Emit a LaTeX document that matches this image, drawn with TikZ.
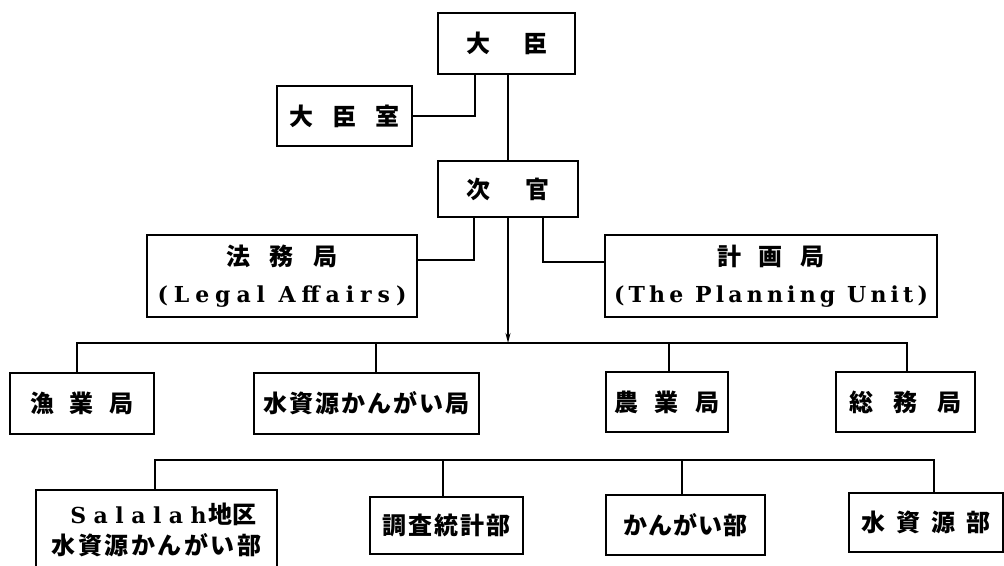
\documentclass[tikz,border=0pt]{standalone}
\usepackage{fontspec}
\newfontfamily\cjk{Noto Sans CJK JP}
\newfontfamily\latf{DejaVu Serif}[LetterSpace=27]
\newfontfamily\latp{DejaVu Serif}[LetterSpace=19]
\newfontfamily\latw{DejaVu Serif}[LetterSpace=34]
\usetikzlibrary{arrows.meta,calc}
\begin{document}
\begin{tikzpicture}[x=1pt,y=-1pt,
  box/.style={draw, line width=1.6pt, inner sep=0pt, align=center,
    font=\cjk\bfseries\fontsize{24}{26}\selectfont},
  twoline/.style={font=\cjk\bfseries\fontsize{24}{37}\selectfont},
  conn/.style={line width=1.4pt}]
\useasboundingbox (0,0) rectangle (1004,565);
% top
\node[box, minimum width=137pt, minimum height=61pt] (daijin) at (506.5,43.5) {大\hspace{33pt}臣};
\node[box, minimum width=135pt, minimum height=60pt] (shitsu) at (344.5,116) {大\hspace{19pt}臣\hspace{19pt}室};
\node[box, minimum width=140pt, minimum height=56pt] (jikan) at (508,189) {次\hspace{35pt}官};
\node[box, twoline, minimum width=270pt, minimum height=82pt] (homu) at (282,276)
  {法\hspace{20pt}務\hspace{20pt}局\\{\latf\bfseries\fontsize{22}{37}\selectfont (Legal Affairs)}};
\node[box, twoline, minimum width=332pt, minimum height=82pt] (keikaku) at (771,276)
  {計\hspace{18pt}画\hspace{18pt}局\\{\latp\bfseries\fontsize{22}{37}\selectfont (The Planning Unit)}};
% row 2
\node[box, minimum width=144pt, minimum height=61pt] (gyo) at (82,403.5) {漁\hspace{16pt}業\hspace{16pt}局};
\node[box, minimum width=225pt, minimum height=61pt] (suishi) at (366.5,403.5)
  {水\hspace{2pt}資\hspace{2pt}源\hspace{2pt}か\hspace{2pt}ん\hspace{2pt}が\hspace{2pt}い\hspace{2pt}局};
\node[box, minimum width=122pt, minimum height=60pt] (nogyo) at (667,402) {農\hspace{17pt}業\hspace{17pt}局};
\node[box, minimum width=139pt, minimum height=60pt] (somu) at (905.5,402) {総\hspace{20pt}務\hspace{20pt}局};
% row 3
\node[box, font=\cjk\bfseries\fontsize{24}{31}\selectfont, minimum width=241pt, minimum height=80pt] (sal) at (156.5,530)
  {\hspace{14pt}{\latw\bfseries\fontsize{22}{31}\selectfont Salalah}\hspace{2pt}地区\\水\hspace{2.5pt}資\hspace{2.5pt}源\hspace{2.5pt}か\hspace{2.5pt}ん\hspace{2.5pt}が\hspace{2.5pt}い\hspace{2.5pt}部};
\node[box, minimum width=153pt, minimum height=57pt] (chosa) at (446.5,525.5)
  {調\hspace{2pt}査\hspace{2pt}統\hspace{2pt}計\hspace{2pt}部};
\node[box, minimum width=159pt, minimum height=60pt] (kangai) at (685.5,525)
  {か\hspace{1pt}ん\hspace{1pt}が\hspace{1pt}い\hspace{1pt}部};
\node[box, minimum width=154pt, minimum height=59pt] (suigen) at (926,522.5)
  {水\hspace{11pt}資\hspace{11pt}源\hspace{11pt}部};
% connectors
\draw[conn] (shitsu.east) -| ([xshift=-31.5pt]daijin.south);
\draw[conn] (daijin.south -| jikan.north) -- (jikan.north);
\draw[conn] ([xshift=-34pt]jikan.south) |- ([yshift=16pt]homu.east);
\draw[conn] ([xshift=35pt]jikan.south) |- ([yshift=14pt]keikaku.west);
\coordinate (bus1) at (508,343);
\draw[conn, -{Stealth[length=10pt,width=5pt]}] (jikan.south) -- (bus1);
\draw[conn] ([xshift=-5pt]gyo.north) |- (bus1) -| ([xshift=1.5pt]somu.north);
\draw[conn] ([xshift=9.5pt]suishi.north) -- ([xshift=9.5pt]suishi.north |- bus1);
\draw[conn] ([xshift=2pt]nogyo.north) -- ([xshift=2pt]nogyo.north |- bus1);
\coordinate (bus2) at (600,460);
\draw[conn] ([xshift=-1.5pt]sal.north) |- (bus2) -| ([xshift=8pt]suigen.north);
\draw[conn] ([xshift=-3.5pt]chosa.north) -- ([xshift=-3.5pt]chosa.north |- bus2);
\draw[conn] ([xshift=-3.5pt]kangai.north) -- ([xshift=-3.5pt]kangai.north |- bus2);
\end{tikzpicture}
\end{document}
